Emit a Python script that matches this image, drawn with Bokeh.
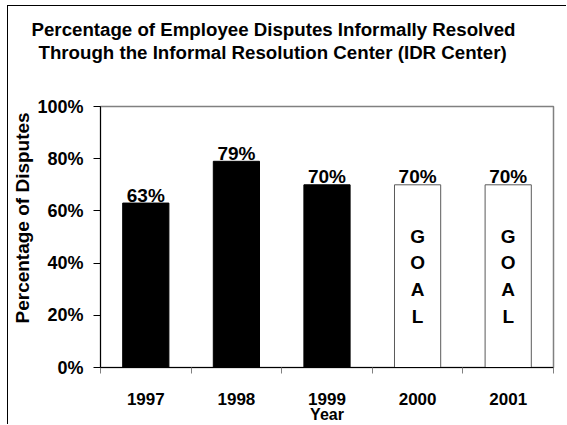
from bokeh.plotting import figure
from bokeh.models import Range1d, LinearAxis, FixedTicker, Title, ColumnDataSource
from bokeh.core.properties import value
from bokeh.embed import file_html
from bokeh.resources import INLINE

# ---------------- data ----------------
years = ["1997", "1998", "1999", "2000", "2001"]
pct = [63, 79, 70, 70, 70]
is_goal = [False, False, False, True, True]
y_ticks = [0, 20, 40, 60, 80, 100]
title_lines = ["Percentage of Employee Disputes Informally Resolved",
               "Through the Informal Resolution Center (IDR Center)"]
y_title = "Percentage of Disputes"
x_title = "Year"
goal_word = "GOAL"

FONT = "Liberation Sans"

n = len(years)
xs = [i + 0.5 for i in range(n)]
src = ColumnDataSource(dict(
    x=xs,
    top=pct,
    fill=["white" if g else "black" for g in is_goal],
    line=["#5a5a5a" if g else "black" for g in is_goal],
    label=[f"{v}%" for v in pct],
    mid=[v / 2 for v in pct],
    goal=["\n".join(goal_word) if g else "" for g in is_goal],
))

p = figure(width=559, height=419,
           x_range=Range1d(0, n), y_range=Range1d(0, 100),
           output_backend="svg", toolbar_location=None,
           x_axis_location=None, y_axis_location=None,
           min_border_left=92, min_border_right=14,
           min_border_top=100, min_border_bottom=58,
           margin=(5, 0, 0, 7),
           styles={"border-left": "1px solid #000", "border-top": "1px solid #000"})
p.grid.visible = False
p.background_fill_color = "white"
p.border_fill_color = "white"
p.outline_line_color = "#808080"
p.outline_line_width = 1.5

# x axis: labels at centres, ticks at category boundaries
xaxis = LinearAxis(ticker=FixedTicker(ticks=xs, minor_ticks=list(range(n + 1))))
xaxis.major_label_overrides = {x: y for x, y in zip(xs, years)}
xaxis.major_tick_line_color = None
xaxis.major_tick_out = 0
xaxis.major_tick_in = 0
xaxis.minor_tick_line_color = "#808080"
xaxis.minor_tick_out = 6
xaxis.minor_tick_in = 0
xaxis.axis_line_color = "black"
xaxis.major_label_standoff = 19
xaxis.major_label_text_font = FONT
xaxis.major_label_text_font_style = "bold"
xaxis.major_label_text_font_size = "17px"
xaxis.major_label_text_color = "black"
xaxis.axis_label = x_title
xaxis.axis_label_standoff = -2
xaxis.axis_label_text_font = FONT
xaxis.axis_label_text_font_style = "bold"
xaxis.axis_label_text_font_size = "16px"
xaxis.axis_label_text_color = "black"
p.add_layout(xaxis, "below")

yaxis = LinearAxis(ticker=FixedTicker(ticks=y_ticks, minor_ticks=[]))
yaxis.major_label_overrides = {t: f"{t}%" for t in y_ticks}
yaxis.major_tick_out = 7
yaxis.major_tick_in = 0
yaxis.major_tick_line_color = "black"
yaxis.minor_tick_line_color = None
yaxis.axis_line_color = "black"
yaxis.major_label_standoff = 10
yaxis.major_label_text_font = FONT
yaxis.major_label_text_font_style = "bold"
yaxis.major_label_text_font_size = "18px"
yaxis.major_label_text_color = "black"
p.add_layout(yaxis, "left")

# y axis title, as a title on the left side
p.add_layout(Title(text=y_title, align="left", offset=44, standoff=3,
                   vertical_align="bottom", text_font=FONT,
                   text_font_style="bold", text_font_size="19px",
                   text_color="black"), "left")

# chart title: spacer nearest the plot, then line 2, then line 1
p.add_layout(Title(text=" ", text_font_size="10px", standoff=31), "above")
p.add_layout(Title(text=title_lines[1], align="left", offset=-62, standoff=0,
                   text_font=FONT, text_font_style="bold",
                   text_font_size="18.7px", text_color="black"), "above")
p.add_layout(Title(text=title_lines[0], align="left", offset=-69, standoff=0,
                   text_font=FONT, text_font_style="bold",
                   text_font_size="18.7px", text_color="black"), "above")

# bars
p.vbar(x="x", top="top", width=0.51, fill_color="fill", line_color="line",
       line_width=1, source=src)

# value labels
p.text(x="x", y="top", text="label", source=src, y_offset=-8,
       text_align="center", text_baseline="alphabetic",
       text_font=value(FONT), text_font_style="bold",
       text_font_size="19px", text_color="black")

# GOAL letters
p.text(x="x", y="mid", text="goal", source=src,
       text_align="center", text_baseline="middle", text_line_height=1.27,
       text_font=value(FONT), text_font_style="bold",
       text_font_size="19px", text_color="black")

open("out.html", "w").write(file_html(p, INLINE))
